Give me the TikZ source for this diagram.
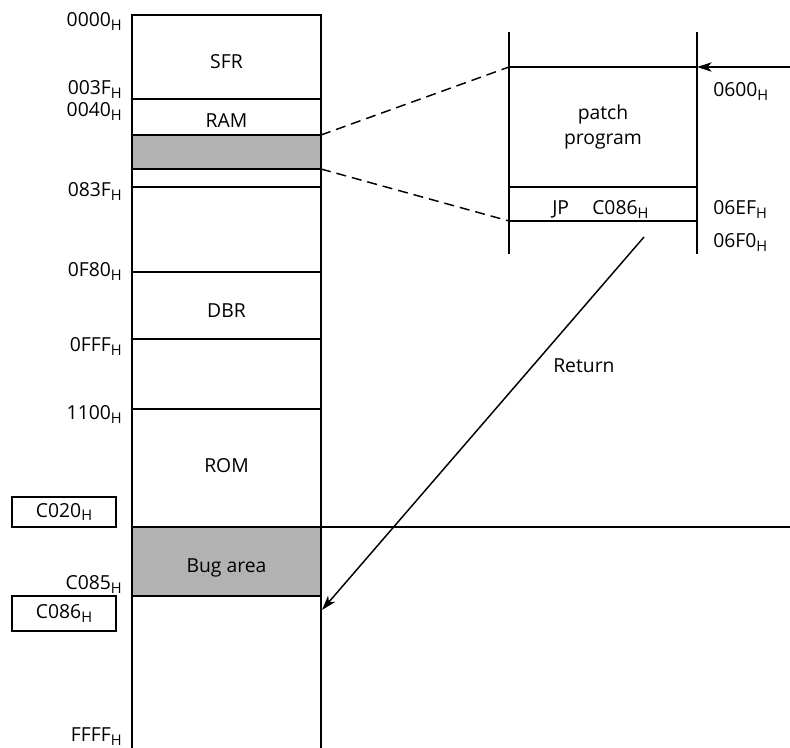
\documentclass[tikz,border=0pt]{standalone}
\usepackage{fontspec}
\setmainfont{Open Sans}
\usetikzlibrary{arrows.meta}
\newcommand\hx[1]{#1\raisebox{-2.6pt}{\fontsize{11}{12}\selectfont H}}
\tikzset{
  ln/.style={line width=1.1pt},
  lbl/.style={font=\fontsize{14.5}{16}\selectfont, inner sep=0pt},
  addr/.style={lbl, anchor=base east},
  raddr/.style={lbl, anchor=base west},
  mid/.style={lbl, anchor=base},
  shade/.style={fill=black!30},
  arr/.style={ln, -{Stealth[length=11pt,width=7pt,inset=3pt]}},
  dsh/.style={ln, dash pattern=on 7.5pt off 4.5pt},
  abox/.style={ln, draw}
}
\begin{document}
\begin{tikzpicture}[x=0.75pt,y=-0.75pt]
\useasboundingbox (0,0) rectangle (790,748);
% shaded areas
\fill[shade] (132,135) rectangle (321,169);
\fill[shade] (132,527) rectangle (321,596);
% main column
\draw[ln] (132,748) -- (132,15) -- (321,15) -- (321,748);
\foreach \yy in {99,135,169,187,272,339,409,596}
  \draw[ln] (132,\yy) -- (321,\yy);
\coordinate (ramtop) at (321,135);
\coordinate (rambot) at (321,169);
\coordinate (retend) at (322,610);
\coordinate (c020r) at (790,527);
\draw[ln] (132,527) -- (c020r);
% left labels
\node[addr] (a0000) at (122,27) {\hx{0000}};
\node[addr] (a003f) at (122,95) {\hx{003F}};
\node[addr] (a0040) at (122,117) {\hx{0040}};
\node[addr] (a083f) at (122,197) {\hx{083F}};
\node[addr] (a0f80) at (122,277) {\hx{0F80}};
\node[addr] (a0fff) at (122,352) {\hx{0FFF}};
\node[addr] (a1100) at (122,420) {\hx{1100}};
\node[addr] (ac085) at (122,590) {\hx{C085}};
\node[addr] (affff) at (122,742) {\hx{FFFF}};
\node[abox, minimum width=104pt*0.75, minimum height=30pt*0.75, inner sep=0pt, font=\fontsize{14.5}{16}\selectfont] (bc020) at (64,512) {\hx{C020}};
\node[abox, minimum width=104pt*0.75, minimum height=35pt*0.75, inner sep=0pt, font=\fontsize{14.5}{16}\selectfont] (bc086) at (64,613.5) {\hx{C086}};
% area labels
\node[mid] (sfr) at (226.5,69) {SFR};
\node[mid] (ram) at (226.5,128) {RAM};
\node[mid] (dbr) at (226.5,318) {DBR};
\node[mid] (rom) at (226.5,473) {ROM};
\node[mid] (bug) at (226.5,573) {Bug area};
% patch column
\draw[ln] (509,32) -- (509,254);
\draw[ln] (697,32) -- (697,254);
\coordinate (ptop) at (509,67);
\coordinate (pbot) at (509,221);
\draw[ln] (ptop) -- (697,67);
\draw[ln] (509,187) -- (697,187);
\draw[ln] (pbot) -- (697,221);
\coordinate (inR) at (790,67);
\coordinate (inL) at (697,67);
\draw[arr] (inR) -- (inL);
\node[mid] (patch) at (603,120) {patch};
\node[mid] (prog) at (603,145) {program};
\node[lbl, anchor=base west] (jp) at (552,215) {JP};
\node[lbl, anchor=base west] (jpa) at (592,215) {\hx{C086}};
\node[raddr] (a0600) at (713,97) {\hx{0600}};
\node[raddr] (a06ef) at (713,215) {\hx{06EF}};
\node[raddr] (a06f0) at (713,248) {\hx{06F0}};
% dashed zoom lines
\draw[dsh] (ramtop) -- (ptop);
\draw[dsh] (rambot) -- (pbot);
% return arrow
\coordinate (retstart) at (644,237);
\draw[arr] (retstart) -- (retend);
\node[lbl, anchor=base west] (ret) at (553,373) {Return};
\end{tikzpicture}
\end{document}
